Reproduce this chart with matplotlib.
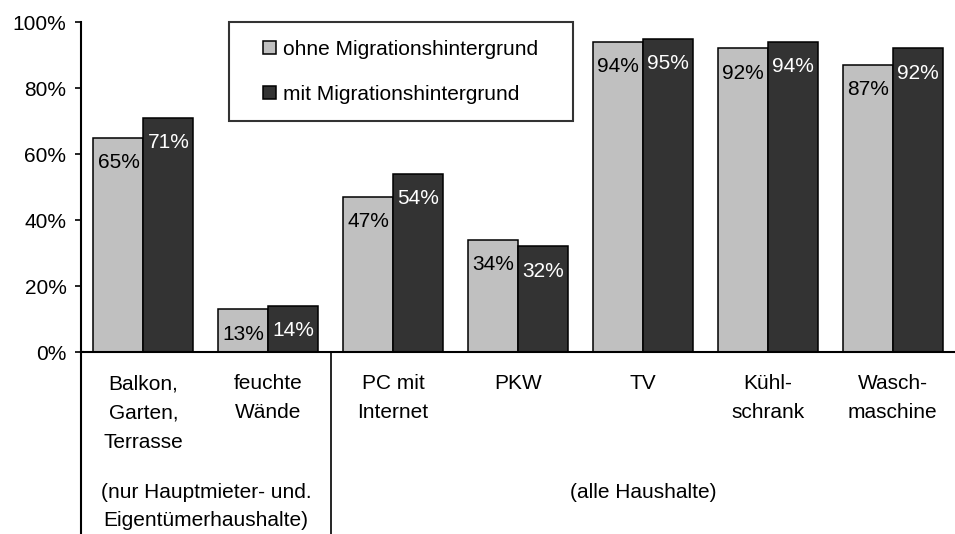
import numpy as np
import matplotlib.pyplot as plt
from matplotlib.patches import Patch, Rectangle
from matplotlib.legend_handler import HandlerPatch

plt.rcParams['font.family'] = ['Liberation Sans', 'DejaVu Sans']

categories = ['Balkon,\nGarten,\nTerrasse', 'feuchte\nWände', 'PC mit\nInternet',
              'PKW', 'TV', 'Kühl-\nschrank', 'Wasch-\nmaschine']
ohne = [65, 13, 47, 34, 94, 92, 87]
mit = [71, 14, 54, 32, 95, 94, 92]
series_names = ['ohne Migrationshintergrund', 'mit Migrationshintergrund']
group_labels = ['(nur Hauptmieter- und.\nEigentümerhaushalte)', '(alle Haushalte)']

light = '#c0c0c0'
dark = '#333333'

fig = plt.figure(figsize=(9.55, 5.34), dpi=100)
ax = fig.add_axes([81 / 955, 182 / 534, 874 / 955, 330 / 534])

x = np.arange(len(categories))
w = 0.4
b1 = ax.bar(x - w / 2, ohne, w, color=light, edgecolor='black', linewidth=1.1)
b2 = ax.bar(x + w / 2, mit, w, color=dark, edgecolor='black', linewidth=1.1)

# value labels just under the bar tops
for bars, vals, col in [(b1, ohne, 'black'), (b2, mit, 'white')]:
    for rect, v in zip(bars, vals):
        ax.annotate(f'{v}%', (rect.get_x() + rect.get_width() / 2, v),
                    xytext=(0, -18), textcoords='offset points',
                    ha='center', va='center', fontsize=15, color=col)

ax.set_xlim(-0.5, len(categories) - 0.5)
ax.set_ylim(0, 100)
ax.set_yticks(range(0, 101, 20))
ax.set_yticklabels([f'{t}%' for t in range(0, 101, 20)], fontsize=15)
ax.tick_params(axis='y', length=4.5, width=1.2, pad=6)

ax.set_xticks(x)
ax.set_xticklabels(categories, fontsize=15, linespacing=1.68)
ax.tick_params(axis='x', length=0, pad=16)

for s in ['top', 'right']:
    ax.spines[s].set_visible(False)
ax.spines['left'].set_linewidth(1.5)
ax.spines['bottom'].set_linewidth(1.5)

# lines below the axis separating the two groups
tr = ax.get_xaxis_transform()
ax.plot([-0.5, -0.5], [0, -0.56], transform=tr, color='black', lw=1.5, clip_on=False)
ax.plot([1.5, 1.5], [0, -0.56], transform=tr, color='black', lw=1.2, clip_on=False)

ax.text(0.5, -0.468, group_labels[0], transform=tr, ha='center', va='center',
        fontsize=15, linespacing=1.55)
ax.text(4.0, -0.427, group_labels[1], transform=tr, ha='center', va='center',
        fontsize=15)


def square_right(legend, orig_handle, xdescent, ydescent, width, height, fontsize):
    # small square sitting at the right end of the handle box
    return Rectangle((width - height - xdescent, -ydescent), height, height)


handles = [Patch(facecolor=light, edgecolor='black', linewidth=1.1),
           Patch(facecolor=dark, edgecolor='black', linewidth=1.1)]
leg = ax.legend(handles, series_names, loc='upper left',
                bbox_to_anchor=(148 / 874, 0, 344 / 874, 1.0), mode='expand',
                borderaxespad=0, fontsize=15, frameon=True, fancybox=False,
                handlelength=1.41, handleheight=0.62, handletextpad=0.34,
                labelspacing=1.25, borderpad=0.85,
                handler_map={Patch: HandlerPatch(patch_func=square_right)})
leg.get_frame().set_edgecolor('black')
leg.get_frame().set_linewidth(1.5)

fig.savefig('out.png', dpi=100)
